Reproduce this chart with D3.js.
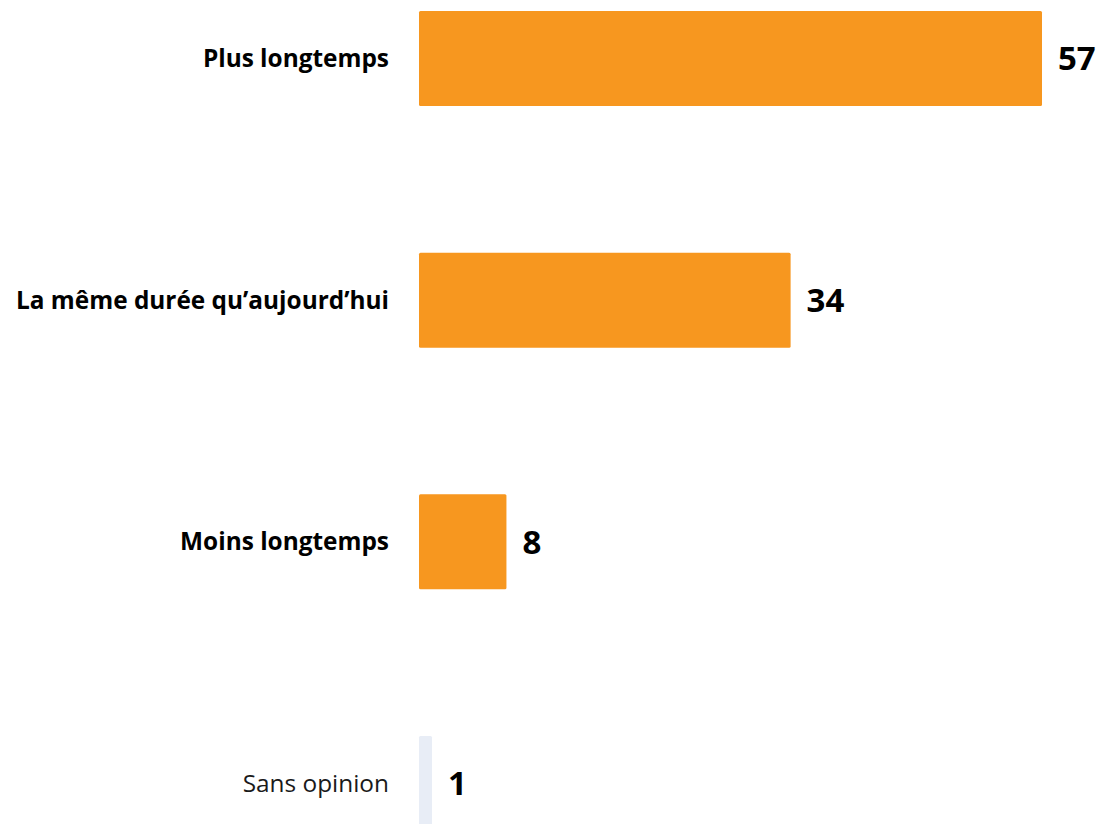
<!DOCTYPE html>
<html><head><meta charset="utf-8">
<script src="https://cdn.jsdelivr.net/npm/d3@7"></script>
<style>body{margin:0;background:#fff;overflow:hidden}</style>
</head><body>
<svg id="c" width="1101" height="824"></svg>
<script>
const categories = ["Plus longtemps", "La même durée qu’aujourd’hui", "Moins longtemps", "Sans opinion"];
const values = [57, 34, 8, 1];
const highlight = [true, true, true, false];

const svg = d3.select("#c");
const x = d3.scaleLinear().domain([0, 57]).range([419, 1042]);
const y = d3.scaleBand().domain(categories).range([11, 831]).paddingInner(0.607).paddingOuter(0);

const rows = svg.append("g").selectAll("g.row").data(categories).enter().append("g");

rows.append("rect")
  .attr("x", x(0))
  .attr("y", d => y(d))
  .attr("width", (d, i) => Math.max(x(values[i]) - x(0), 13))
  .attr("height", y.bandwidth())
  .attr("rx", 1.5)
  .attr("fill", (d, i) => highlight[i] ? "#F7971F" : "#E8EDF6");

rows.append("text")
  .attr("x", 389)
  .attr("y", d => y(d) + y.bandwidth() / 2)
  .attr("dy", "0.35em")
  .attr("text-anchor", "end")
  .attr("font-family", "Open Sans, sans-serif")
  .attr("font-size", 24.4)
  .attr("font-weight", (d, i) => highlight[i] ? 700 : 400)
  .attr("fill", (d, i) => highlight[i] ? "#000" : "#1a1a1a")
  .text(d => d);

rows.append("text")
  .attr("x", (d, i) => Math.max(x(values[i]), x(0) + 13) + 16)
  .attr("y", d => y(d) + y.bandwidth() / 2)
  .attr("dy", "0.36em")
  .attr("font-family", "Open Sans, sans-serif")
  .attr("font-size", 33)
  .attr("font-weight", 700)
  .attr("fill", "#000")
  .text((d, i) => values[i]);
</script>
</body></html>
